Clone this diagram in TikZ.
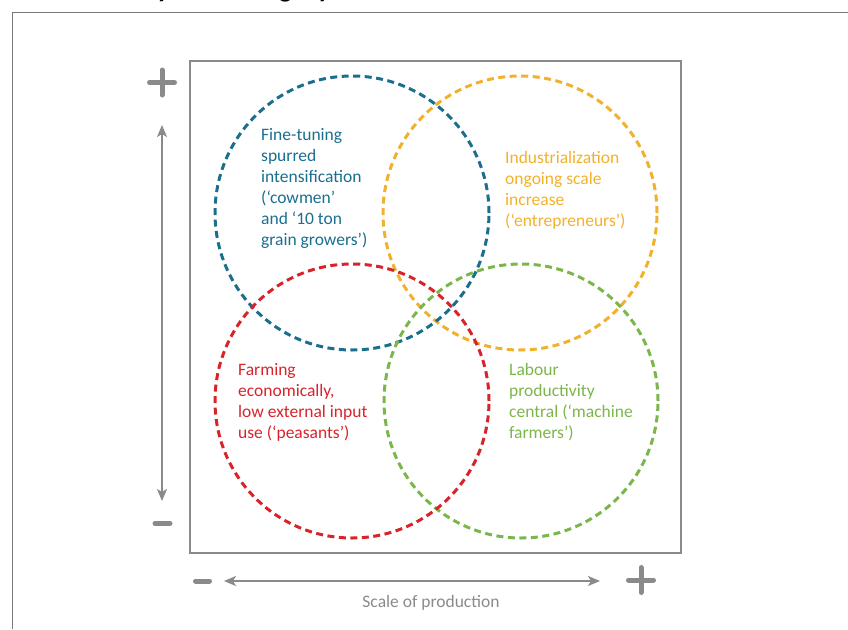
\documentclass[tikz,border=0pt]{standalone}
\usepackage{fontspec}
\setmainfont{Carlito}
\usetikzlibrary{arrows.meta}
\definecolor{cblue}{HTML}{1A6E8E}
\definecolor{corange}{HTML}{F2B12C}
\definecolor{cred}{HTML}{D8232A}
\definecolor{cgreen}{HTML}{7BB64A}
\definecolor{cgray}{HTML}{8A8A8A}
\definecolor{cframe}{HTML}{7A7A7A}
\begin{document}
\begin{tikzpicture}[x=1pt,y=-1pt,
  ring/.style={circle, inner sep=0pt, minimum size=274pt, line width=3pt, dash pattern=on 7pt off 4.5pt},
  lbl/.style={anchor=north west, inner sep=0pt, align=left, font=\fontsize{17.5}{21}\selectfont},
  pm/.style={line width=5pt, line cap=round, cgray},
  axis/.style={line width=1.5pt, cgray, {Stealth[length=12pt,width=10pt,inset=3pt]}-{Stealth[length=12pt,width=10pt,inset=3pt]}}]
\useasboundingbox (0,0) rectangle (848,629);
\begin{scope}
\clip (0,0) rectangle (848,629);
\node[anchor=base west, inner sep=0pt, font=\fontsize{27}{30}\selectfont\bfseries] (title) at (71,-2.5) {Diversity of farming styles};
\end{scope}
\draw[cframe, line width=1.5pt] (12.5,629) -- (12.5,12.5) -- (848,12.5);
\node[draw=cgray, line width=2pt, minimum width=491pt, minimum height=492pt, inner sep=0pt] (box) at (435.5,307) {};
% circles
\node[ring, draw=corange] (orange) at (520,213) {};
\node[ring, draw=cblue] (blue) at (352,213) {};
\node[ring, draw=cgreen] (green) at (521,401) {};
\node[ring, draw=cred] (red) at (352,401) {};
% labels
\node[lbl, text=cblue] (tblue) at (261,125.3) {\strut Fine-tuning\\spurred\\intensification\\(‘cowmen’\\and ‘10 ton\\grain growers’)};
\node[lbl, text=corange] (torange) at (505,148.3) {\strut Industrialization\\ongoing scale\\increase\\(‘entrepreneurs’)};
\node[lbl, text=cred] (tred) at (238,360.3) {\strut Farming\\economically,\\low external input\\use (‘peasants’)};
\node[lbl, text=cgreen] (tgreen) at (509,360.3) {\strut Labour\\productivity\\central (‘machine\\farmers’)};
% axes
\coordinate (vt) at (162,125);
\coordinate (vb) at (162,501);
\coordinate (hl) at (224,581);
\coordinate (hr) at (600,581);
\draw[axis] (vb) -- (vt);
\draw[axis] (hl) -- (hr);
% plus / minus signs
\draw[pm] (149.5,82.5) -- (174.5,82.5);
\draw[pm] (162,70) -- (162,95);
\draw[pm] (155,523.5) -- (170,523.5);
\draw[pm] (195.5,581) -- (209.5,581);
\draw[pm] (628.5,580) -- (653.5,580);
\draw[pm] (641,567.5) -- (641,592.5);
\node[anchor=base, inner sep=0pt, text=cgray, font=\fontsize{17.5}{21}\selectfont] (xlabel) at (431,607) {Scale of production};
\end{tikzpicture}
\end{document}
